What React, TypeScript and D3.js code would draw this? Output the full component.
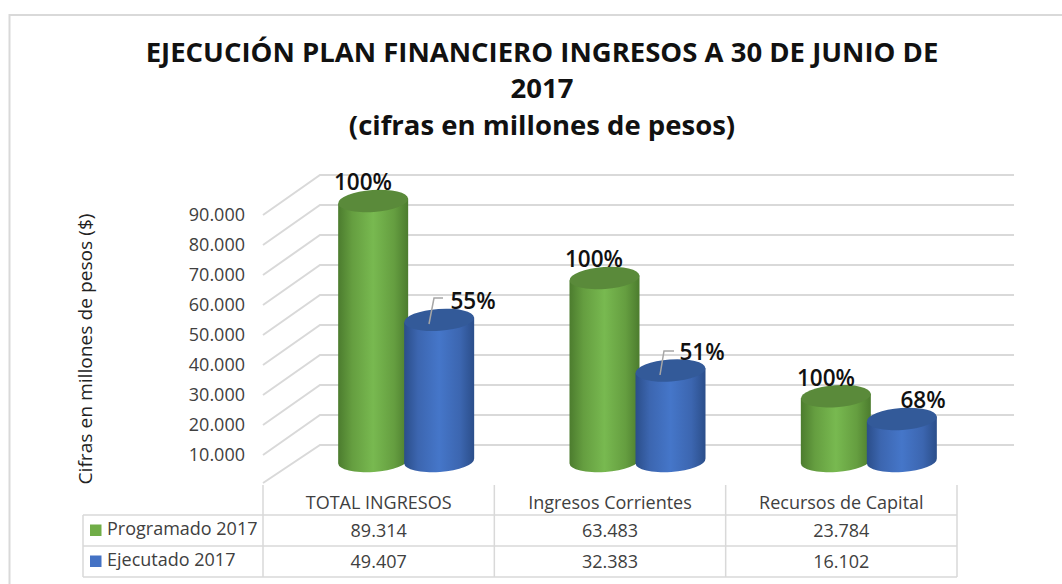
import React from "react";
import * as d3 from "d3";

const categories = ["TOTAL INGRESOS", "Ingresos Corrientes", "Recursos de Capital"];
const programado = [89314, 63483, 23784];
const ejecutado = [49407, 32383, 16102];
const pctProgramado = ["100%", "100%", "100%"];
const pctEjecutado = ["55%", "51%", "68%"];
const yTicks = [10000, 20000, 30000, 40000, 50000, 60000, 70000, 80000, 90000];
const gridTicks = [0, ...yTicks];
const seriesNames = ["Programado 2017", "Ejecutado 2017"];
const yTitle = "Cifras en millones de pesos ($)";
const titleLines = [
  "EJECUCIÓN PLAN FINANCIERO INGRESOS A 30 DE JUNIO DE",
  "2017",
  "(cifras en millones de pesos)",
];

const W = 1062, H = 584;
const FONT = "'Open Sans', 'Noto Sans', sans-serif";
const GRID = "#d9d9d9";
const TEXT = "#404040";

const locale = d3.formatLocale({ decimal: ",", thousands: ".", grouping: [3], currency: ["$", ""] });
const fmt = locale.format(",d");

const x = d3.scaleBand<string>().domain(categories).range([263, 957]);
const yFront = d3.scaleLinear().domain([0, 90000]).range([485, 215]);
const yBack = d3.scaleLinear().domain([0, 90000]).range([445, 175]);
const yBar = d3.scaleLinear().domain([0, 90000]).range([467, 199]);

const RX = 35, RY = 11, TILT = -4, BASE = 461;
const DY = RX * Math.sin((4 * Math.PI) / 180);

function Cylinder({ cx, value, grad, top }: { cx: number; value: number; grad: string; top: string }) {
  const yt = yBar(value);
  const x0 = cx - RX, x1 = cx + RX;
  const body = `M${x0},${yt + DY} L${x0},${BASE + DY} A${RX},${RY} ${TILT} 0 0 ${x1},${BASE - DY} L${x1},${yt - DY} Z`;
  return (
    <g>
      <path d={body} fill={`url(#${grad})`} />
      <ellipse cx={cx} cy={yt} rx={RX} ry={RY} fill={top} transform={`rotate(${TILT} ${cx} ${yt})`} />
    </g>
  );
}

const Grad = ({ id, edge, mid, center }: { id: string; edge: string; mid: string; center: string }) => (
  <linearGradient id={id} x1="0" x2="1" y1="0" y2="0">
    <stop offset="0" stopColor={edge} />
    <stop offset="0.2" stopColor={mid} />
    <stop offset="0.5" stopColor={center} />
    <stop offset="0.8" stopColor={mid} />
    <stop offset="1" stopColor={edge} />
  </linearGradient>
);

const rows = [
  { name: seriesNames[0], values: programado, color: "#70ad47", y: 530 },
  { name: seriesNames[1], values: ejecutado, color: "#4472c4", y: 561 },
];

// label anchor positions relative to each cylinder's band
const labelsProg = [[363, 182], [594, 259], [826, 378]];
const labelsEjec = [[473, 301], [702, 352], [923, 400]];
const leaders = [
  [[429, 324], [434, 298], [443, 298]],
  [[660, 375], [664, 351], [674, 351]],
];

export default function App() {
  const line = d3.line();
  return (
    <svg width={W} height={H} viewBox={`0 0 ${W} ${H}`}
      style={{ position: "absolute", left: 0, top: 0, background: "#fff", fontFamily: FONT }}>
      <defs>
        <Grad id="g" edge="#4c7c2e" mid="#659e40" center="#78b950" />
        <Grad id="b" edge="#2b4e8a" mid="#3c66b0" center="#4576c9" />
      </defs>
      <path d="M1062,15 H9.5 V584" fill="none" stroke={GRID} strokeWidth={2} />

      {titleLines.map((t, i) => (
        <text key={t} x={542} y={[62, 98, 135][i]} textAnchor="middle" fontSize={27.5} fontWeight={700} fill="#111">{t}</text>
      ))}

      {gridTicks.map((v) => (
        <g key={v}>
          <polyline fill="none" stroke={GRID} strokeWidth={2}
            points={`263,${yFront(v) - (v === 0 ? 2 : 0)} 320,${yBack(v)} 1014,${yBack(v)}`} />
        </g>
      ))}
      {yTicks.map((v) => (
        <text key={v} x={245} y={yFront(v)} dy="0.35em" textAnchor="end" fontSize={18} fill={TEXT}>{fmt(v)}</text>
      ))}
      <text transform="translate(86,349) rotate(-90)" textAnchor="middle" dy="0.35em" fontSize={18.5} fill="#222"
        textLength={271} lengthAdjust="spacingAndGlyphs">{yTitle}</text>

      {categories.map((c, i) => {
        const mid = x(c)! + x.bandwidth() / 2;
        return (
          <g key={c}>
            <Cylinder cx={mid - 5.5} value={programado[i]} grad="g" top="#5a8a3a" />
            <Cylinder cx={mid + 60.5} value={ejecutado[i]} grad="b" top="#335a99" />
          </g>
        );
      })}

      {leaders.map((pts, i) => (
        <path key={i} d={line(pts as [number, number][])!} fill="none" stroke="#a6a6a6" strokeWidth={1.5} />
      ))}
      {categories.map((c, i) => (
        <g key={c} fontSize={22.5} fontWeight={600} fill="#111" textAnchor="middle">
          <text x={labelsProg[i][0]} y={labelsProg[i][1]} dy="0.35em">{pctProgramado[i]}</text>
          <text x={labelsEjec[i][0]} y={labelsEjec[i][1]} dy="0.35em">{pctEjecutado[i]}</text>
        </g>
      ))}

      {/* data table */}
      <g stroke={GRID} strokeWidth={1.5} fill="none">
        {[515, 546, 577].map((y) => <line key={y} x1={83} x2={957} y1={y} y2={y} />)}
        <line x1={83} x2={83} y1={515} y2={577} />
        {[...categories.map((c) => x(c)!), 957].map((v) => <line key={v} x1={v} x2={v} y1={485} y2={577} />)}
      </g>
      {categories.map((c) => (
        <text key={c} x={x(c)! + x.bandwidth() / 2} y={503} dy="0.35em" textAnchor="middle" fontSize={18} fill={TEXT}>{c}</text>
      ))}
      {rows.map((r) => (
        <g key={r.name}>
          <rect x={90} y={r.y - 5.5} width={11.5} height={11.5} fill={r.color} />
          <text x={107} y={r.y - 1} dy="0.35em" fontSize={18} fill={TEXT}>{r.name}</text>
          {r.values.map((v, i) => (
            <text key={i} x={x(categories[i])! + x.bandwidth() / 2} y={r.y + 1} dy="0.35em" textAnchor="middle" fontSize={18} fill={TEXT}>{fmt(v)}</text>
          ))}
        </g>
      ))}
    </svg>
  );
}
